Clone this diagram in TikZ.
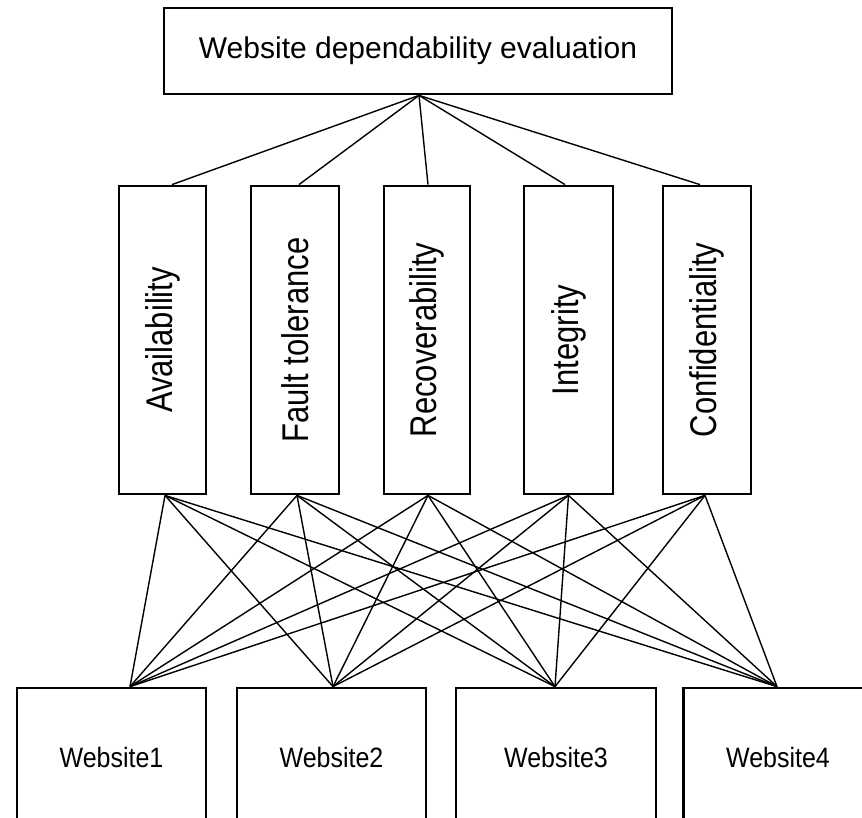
\documentclass[tikz,border=0pt]{standalone}
\usepackage{fontspec}
\setmainfont{Liberation Sans}
\tikzset{
  topbox/.style={draw=black, line width=2.8pt, minimum width=508pt, minimum height=86pt, inner sep=0pt,
    font=\fontsize{30}{36}\selectfont},
  critbox/.style={draw=black, line width=2.8pt, minimum width=308pt, minimum height=88pt, inner sep=0pt,
    rotate=90, font=\fontsize{31}{37}\selectfont},
  sitebox/.style={draw=black, line width=2.8pt, minimum width=189pt, minimum height=138pt, inner sep=0pt,
    font=\fontsize{25}{30}\selectfont},
  link/.style={draw=black, line width=1.4pt}
}
\newcommand{\vtext}[1]{\scalebox{1}[1.2]{#1}}
\newcommand{\wtext}[1]{\scalebox{1}[1.12]{#1}}
\begin{document}
\begin{tikzpicture}[x=1pt, y=-1pt]
\useasboundingbox (0,0) rectangle (862,818);
\clip (0,0) rectangle (862,818);
\fill[white] (0,0) rectangle (862,818);

\node[topbox] (top) at (418,51) {Website dependability evaluation};

\node[critbox, minimum height=87pt] (c1) at (162.5,340) {\vtext{Availability}};
\node[critbox, minimum height=88pt] (c2) at (295,340) {\vtext{Fault tolerance}};
\node[critbox, minimum height=86pt] (c3) at (427,340) {\vtext{Recoverability}};
\node[critbox, minimum height=89pt] (c4) at (568.5,340) {\vtext{Integrity}};
\node[critbox, minimum height=88pt] (c5) at (707,340) {\vtext{Confidentiality}};

\node[sitebox] (w1) at (111.5,757) {\wtext{Website1}};
\node[sitebox] (w2) at (331.5,757) {\wtext{Website2}};
\node[sitebox, minimum width=200pt] (w3) at (556,757) {\wtext{Website3}};
\node[sitebox] (w4) at (778,757) {\wtext{Website4}};

% top to criteria (rotated nodes: east anchor is at the top of the box)
\path[link] ([xshift=1pt]top.south) -- ([xshift=9.5pt]c1.east);
\path[link] ([xshift=1pt]top.south) -- ([xshift=4pt]c2.east);
\path[link] ([xshift=1pt]top.south) -- ([xshift=1pt]c3.east);
\path[link] ([xshift=1pt]top.south) -- ([xshift=-3.5pt]c4.east);
\path[link] ([xshift=1pt]top.south) -- ([xshift=-7pt]c5.east);

% criteria to websites
\foreach \c/\dx in {c1/2.5, c2/2, c3/1, c4/0, c5/-2} {
  \foreach \w/\wx in {w1/18.5, w2/1.5, w3/-1, w4/-1} {
    \path[link] ([xshift=\dx pt]\c.west) -- ([xshift=\wx pt]\w.north);
  }
}
\end{tikzpicture}
\end{document}
